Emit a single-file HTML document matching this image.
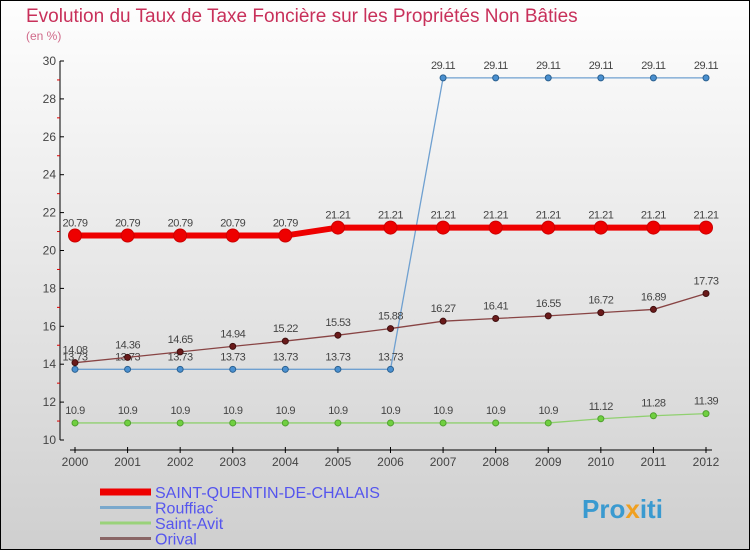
<!DOCTYPE html>
<html><head><meta charset="utf-8"><style>
body{margin:0}
svg{display:block;font-family:"Liberation Sans",sans-serif}
</style></head><body>
<svg id="c" width="750" height="550" xmlns="http://www.w3.org/2000/svg">
<defs><linearGradient id="bg" x1="0" y1="0" x2="0" y2="1"><stop offset="0" stop-color="#fefefe"/><stop offset="1" stop-color="#cfcfcf"/></linearGradient></defs>
<rect x="0.5" y="0.5" width="749" height="549" fill="url(#bg)" stroke="#000"/>
<text x="26" y="22" font-size="19" fill="#c8305a">Evolution du Taux de Taxe Foncière sur les Propriétés Non Bâties</text>
<text x="26" y="40" font-size="12" fill="#d06a8a">(en %)</text>
<g id="axes"></g><g id="series"></g><g id="legend"></g>
<text x="582" y="518" font-size="26" font-weight="bold" fill="#3a9ad0">Pro<tspan fill="#f0a020">x</tspan>iti</text>
</svg>
<script>
const years=[2000,2001,2002,2003,2004,2005,2006,2007,2008,2009,2010,2011,2012];
const yTicks=[10,12,14,16,18,20,22,24,26,28,30];
const sqc=[20.79,20.79,20.79,20.79,20.79,21.21,21.21,21.21,21.21,21.21,21.21,21.21,21.21];
const rouffiac=[13.73,13.73,13.73,13.73,13.73,13.73,13.73,29.11,29.11,29.11,29.11,29.11,29.11];
const saintAvit=[10.9,10.9,10.9,10.9,10.9,10.9,10.9,10.9,10.9,10.9,11.12,11.28,11.39];
const orival=[14.08,14.36,14.65,14.94,15.22,15.53,15.88,16.27,16.41,16.55,16.72,16.89,17.73];
const NS="http://www.w3.org/2000/svg";
const X=i=>75+i*(631/12);
const Y=v=>440-(v-10)*(379/20);
function mk(p,t,a){const e=document.createElementNS(NS,t);for(const k in a)e.setAttribute(k,a[k]);p.appendChild(e);return e;}
const ax=document.getElementById('axes');
const yl=mk(ax,'line',{x1:60,y1:Y(30),x2:60,y2:Y(10),stroke:'#000'});


yTicks.forEach(v=>{
  mk(ax,'line',{x1:60,y1:Y(v),x2:64,y2:Y(v),stroke:'#000'});
  mk(ax,'line',{x1:57,y1:Y(v+1),x2:60,y2:Y(v+1),stroke:v<30?'#d00':'none'});
  const t=mk(ax,'text',{x:56,y:Y(v)+4,'font-size':12,fill:'#444','text-anchor':'end'});
  t.textContent=v;
  
  
});
const xl=mk(ax,'line',{x1:70,y1:450,x2:712,y2:450,stroke:'#000'});


years.forEach((y,i)=>{
  mk(ax,'line',{x1:X(i),y1:447,x2:X(i),y2:453,stroke:'#000'});
  const t=mk(ax,'text',{x:X(i),y:466,'font-size':12,fill:'#444','text-anchor':'middle'});
  t.textContent=y;
  
  
});
const sg=document.getElementById('series');
function series(name,vals,color,w,r,dot,dotStroke){
  const g=mk(sg,'g',{});
  
  
  const l=mk(g,'polyline',{points:vals.map((v,i)=>X(i)+','+Y(v)).join(' '),fill:'none',stroke:color,'stroke-width':w});
  
  
  vals.forEach((v,i)=>{
    const c=mk(g,'circle',{cx:X(i),cy:Y(v),r:r,fill:dot,stroke:dotStroke,'stroke-width':1});
    
    
    const t=mk(g,'text',{x:X(i),y:Y(v)-9,'font-size':11,fill:'#444','text-anchor':'middle','letter-spacing':'-0.5'});
    t.textContent=v;
    
    
  });
}
series('rouffiac',rouffiac,'#6fa0d0',1.3,3,'#4a90d0','#2a6090');
series('saint-avit',saintAvit,'#90d070',1.3,3,'#70d040','#50a030');
series('orival',orival,'#884444',1.3,3,'#6a1a1a','#401010');
series('saint-quentin',sqc,'#ee0000',6,6.5,'#ee0000','#cc0000');
const lg=document.getElementById('legend');
const items=[['SAINT-QUENTIN-DE-CHALAIS','#ee0000',7],['Rouffiac','#7aa8cc',3],['Saint-Avit','#9ad27a',3],['Orival','#8a6666',3]];
items.forEach((it,k)=>{
  const y=492+k*15.5;
  const g=mk(lg,'g',{});
  
  
  mk(g,'line',{x1:100,y1:y,x2:151,y2:y,stroke:it[1],'stroke-width':it[2]});
  const t=mk(g,'text',{x:155,y:y+6,'font-size':16,fill:'#5555ee'});
  t.textContent=it[0];
});
</script>
</body></html>
